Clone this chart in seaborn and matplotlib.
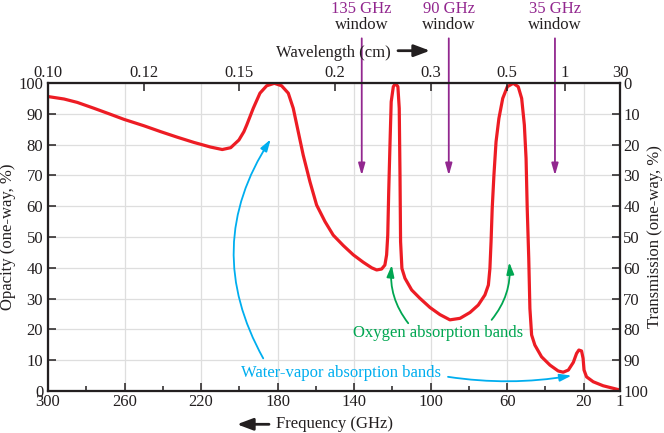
import matplotlib
matplotlib.use("Agg")
import matplotlib.pyplot as plt
import seaborn as sns

sns.set_theme(style="white")
plt.rcParams['font.family'] = ['Liberation Serif', 'DejaVu Serif']

# atmospheric opacity curve (frequency GHz, opacity %)
freq_ghz = [300.0, 291.6, 284.7, 276.0, 267.2, 260.3, 249.8, 241.1, 232.4, 223.7,
            215.0, 208.9, 204.5, 200.2, 197.6, 196.1, 192.7, 189.2, 185.7, 181.7,
            177.9, 174.4, 171.8, 169.2, 166.6, 163.1, 159.6, 155.2, 150.9, 145.6,
            140.4, 135.2, 130.8, 128.2, 125.6, 123.9, 123.0, 122.4, 121.9, 121.2,
            120.6, 119.5, 118.3, 117.1, 116.4, 116.0, 115.7, 115.0, 113.4, 109.9,
            105.6, 100.3, 95.1, 89.9, 84.6, 79.4, 75.1, 71.6, 69.8, 69.0,
            68.4, 67.8, 66.9, 65.8, 64.3, 62.3, 59.9, 56.8, 54.2, 52.4,
            51.0, 50.1, 49.5, 48.7, 48.1, 47.2, 45.5, 42.0, 37.6, 33.3,
            30.7, 28.0, 25.4, 23.7, 22.5, 21.1, 20.3, 19.8, 18.5, 15.0,
            9.8, 2.8, 1.0]
opacity_pct = [95.6, 94.8, 93.7, 91.8, 89.8, 88.2, 86.1, 84.2, 82.4, 80.7,
               79.2, 78.4, 79.0, 81.5, 84.2, 86.4, 91.8, 96.7, 99.1, 99.9,
               99.1, 96.7, 91.8, 84.2, 76.6, 68.0, 60.4, 55.0, 50.6, 47.2,
               44.2, 41.8, 40.0, 39.3, 39.6, 40.9, 44.2, 50.6, 64.7, 80.9,
               93.9, 98.8, 99.9, 98.8, 91.8, 70.1, 48.5, 39.8, 36.6, 32.8,
               30.1, 27.1, 24.8, 23.1, 23.6, 25.5, 27.9, 31.2, 34.4, 39.8,
               48.5, 59.3, 70.1, 80.9, 88.5, 95.0, 98.8, 99.9, 98.8, 95.0,
               86.4, 75.5, 59.3, 43.1, 26.8, 18.2, 14.9, 11.1, 8.4, 6.5,
               6.1, 6.8, 9.3, 12.2, 13.3, 13.0, 10.6, 6.8, 4.6, 3.0,
               1.7, 0.6, 0.3]

freq_ticks = [300, 260, 220, 180, 140, 100, 60, 20, 1]
freq_minor = [280, 240, 200, 160, 120, 80, 40]
pct_ticks = [0, 10, 20, 30, 40, 50, 60, 70, 80, 90, 100]
wave_tick_freq = [300, 250, 200, 150, 100, 60, 30, 1]
wave_tick_labels = ["0.10", "0.12", "0.15", "0.2", "0.3", "0.5", "1", "30"]
window_freq = [136, 90.5, 35]
window_labels = ["135 GHz", "90 GHz", "35 GHz"]

RED = "#ed1c24"
PURPLE = "#92278f"
CYAN = "#00aeef"
GREEN = "#00a651"
INK = "#231f20"
FS = 12

fig = plt.figure(figsize=(6.64, 4.33), dpi=100)
ax = fig.add_axes([48 / 664, 42 / 433, 572 / 664, 308 / 433])

sns.lineplot(x=freq_ghz, y=opacity_pct, sort=False, color=RED, lw=2.3, ax=ax,
             solid_joinstyle="round", solid_capstyle="round")

ax.set_xlim(300, 1)
ax.set_ylim(0, 100)
ax.set_xticks(freq_ticks)
ax.set_xticklabels([str(t) for t in freq_ticks])
ax.set_xticks(freq_minor, minor=True)
ax.set_yticks(pct_ticks)
ax.set_yticklabels([str(t) for t in pct_ticks])
ax.grid(True, which="major", color="#dedede", lw=0.9)
ax.set_axisbelow(True)
ax.tick_params(axis="x", which="major", direction="in", length=6, width=1.1,
               pad=2.5, colors=INK, labelsize=FS, bottom=True)
ax.tick_params(axis="x", which="minor", direction="in", length=3.8, width=1.1,
               colors=INK, bottom=True)
ax.tick_params(axis="y", direction="in", length=6, width=1.1, pad=3.5,
               colors=INK, labelsize=FS, left=True)
for s in ax.spines.values():
    s.set_linewidth(1.5)
    s.set_color(INK)
ax.set_xlabel("")
ax.set_ylabel("")

# right axis: transmission = 100 - opacity
ax_r = ax.twinx()
ax_r.set_ylim(100, 0)
ax_r.set_yticks(pct_ticks)
ax_r.set_yticklabels([str(t) for t in pct_ticks])
ax_r.tick_params(axis="y", direction="in", length=6, width=1.1, pad=2.3,
                 colors=INK, labelsize=FS, right=True)
ax_r.grid(False)

# top axis: wavelength
ax_t = ax.twiny()
ax_t.set_xlim(300, 1)
ax_t.set_xticks(wave_tick_freq)
ax_t.set_xticklabels(wave_tick_labels)
ax_t.tick_params(axis="x", direction="in", length=6, width=1.1, pad=1.2,
                 colors=INK, labelsize=FS, top=True)
ax_t.grid(False)
for a in (ax_r, ax_t):
    for s in a.spines.values():
        s.set_linewidth(1.5)
        s.set_color(INK)

# window markers
xtr = ax.get_xaxis_transform()
for f, lab in zip(window_freq, window_labels):
    ax.annotate("", xy=(f, 70), xytext=(f, 114.5), annotation_clip=False,
                arrowprops=dict(arrowstyle="-|>,head_length=0.7,head_width=0.2",
                                mutation_scale=10, color=PURPLE, lw=1.3,
                                shrinkA=0, shrinkB=0), zorder=5)
    ax.text(f, 1.227, lab, transform=xtr, ha="center", va="baseline",
            color=PURPLE, fontsize=FS)
    ax.text(f, 1.174, "window", transform=xtr, ha="center", va="baseline",
            color=INK, fontsize=FS)

# absorption band annotations
ax.text(199.3, 4.45, "Water-vapor absorption bands", color=CYAN, fontsize=FS,
        ha="left", va="baseline")
ax.annotate("", xy=(183.6, 81.7), xytext=(187.5, 10.6),
            arrowprops=dict(arrowstyle="-|>,head_length=0.7,head_width=0.22",
                            mutation_scale=10, color=CYAN, lw=1.3,
                            shrinkA=0, shrinkB=0,
                            connectionstyle="arc3,rad=-0.3"))
ax.annotate("", xy=(26.3, 5.0), xytext=(90.9, 4.6),
            arrowprops=dict(arrowstyle="-|>,head_length=0.7,head_width=0.22",
                            mutation_scale=10, color=CYAN, lw=1.3,
                            shrinkA=0, shrinkB=0,
                            connectionstyle="arc3,rad=0.08"))

ax.text(140.7, 17.4, "Oxygen absorption bands", color=GREEN, fontsize=FS,
        ha="left", va="baseline")
ax.annotate("", xy=(120.3, 40.9), xytext=(111.7, 22.0),
            arrowprops=dict(arrowstyle="-|>,head_length=0.7,head_width=0.22",
                            mutation_scale=10, color=GREEN, lw=1.3,
                            shrinkA=0, shrinkB=0,
                            connectionstyle="arc3,rad=-0.2"))
ax.annotate("", xy=(58.9, 41.8), xytext=(68.1, 23.1),
            arrowprops=dict(arrowstyle="-|>,head_length=0.7,head_width=0.22",
                            mutation_scale=10, color=GREEN, lw=1.3,
                            shrinkA=0, shrinkB=0,
                            connectionstyle="arc3,rad=0.2"))

# axis titles
fig.text(333.5 / 664, 1 - 57 / 433, "Wavelength (cm)", ha="center",
         va="baseline", color=INK, fontsize=FS)
ax.annotate("", xy=(430 / 664, 1 - 50.7 / 433), xytext=(398 / 664, 1 - 50.7 / 433),
            xycoords="figure fraction", textcoords="figure fraction",
            arrowprops=dict(arrowstyle="-|>,head_length=0.8,head_width=0.3",
                            mutation_scale=12, color=INK, lw=2,
                            shrinkA=0, shrinkB=0))
fig.text(334 / 664, 1 - 428.5 / 433, "Frequency (GHz)", ha="center",
         va="baseline", color=INK, fontsize=FS)
ax.annotate("", xy=(237 / 664, 1 - 424.3 / 433), xytext=(269 / 664, 1 - 424.3 / 433),
            xycoords="figure fraction", textcoords="figure fraction",
            arrowprops=dict(arrowstyle="-|>,head_length=0.8,head_width=0.3",
                            mutation_scale=12, color=INK, lw=2,
                            shrinkA=0, shrinkB=0))
fig.text(8.5 / 664, 1 - 237 / 433, "Opacity (one-way, %)", rotation=90,
         ha="center", va="center", color=INK, fontsize=FS)
fig.text(655 / 664, 1 - 237 / 433, "Transmission (one-way, %)", rotation=90,
         ha="center", va="center", color=INK, fontsize=FS)

fig.savefig("out.png", dpi=100)
